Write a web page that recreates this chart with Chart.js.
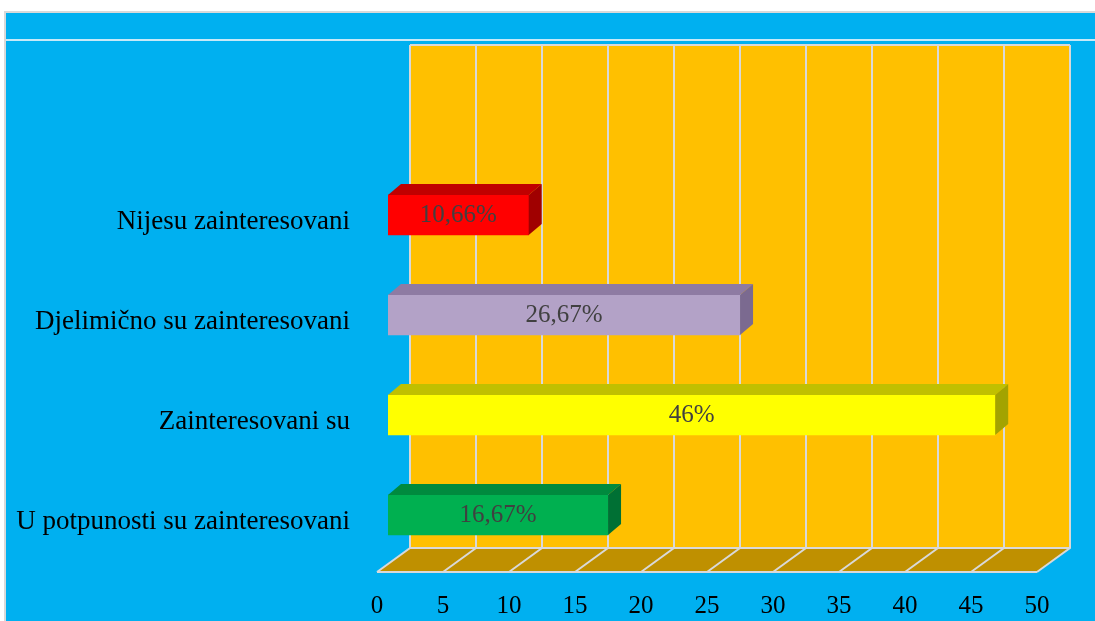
<!DOCTYPE html>
<html lang="en">
<head>
  <meta charset="UTF-8">
  <title>Zainteresovanost</title>
  <script src="https://cdn.jsdelivr.net/npm/chart.js"></script>
  <style>
    body {
      margin: 0;
      background: #ffffff;
    }
    .panel {
      position: absolute;
      left: 4px;
      top: 11px;
      width: 1091px;
      height: 610px;
      background: #00b0f0;
      border-left: 2px solid #d9d9d9;
      border-top: 2px solid #d9d9d9;
      box-sizing: border-box;
    }
    .panel .rule {
      position: absolute;
      left: 0;
      right: 0;
      top: 26px;
      height: 2px;
      background: #c6e9f8;
    }
    #chart {
      position: absolute;
      left: 0;
      top: 0;
    }
  </style>
</head>
<body>

  <div class="panel"><div class="rule"></div></div>
  <canvas id="chart" width="1095" height="621"></canvas>

  <script>
    const categories = [
      'Nijesu zainteresovani',
      'Djelimično su zainteresovani',
      'Zainteresovani su',
      'U potpunosti su zainteresovani'
    ];
    const values = [10.66, 26.67, 46, 16.67];
    const valueLabels = ['10,66%', '26,67%', '46%', '16,67%'];
    const axisMin = 0;
    const axisMax = 50;
    const axisStep = 5;

    const frontColors = ['#ff0000', '#b3a2c7', '#ffff00', '#00b050'];
    const topColors = ['#c00000', '#8e7ba3', '#c0c000', '#008a3e'];
    const sideColors = ['#a00000', '#7b6a90', '#a3a300', '#007034'];

    const serif = '"Liberation Serif", "Times New Roman", serif';

    // back wall + floor, drawn from the x scale
    const wallPlugin = {
      id: 'wall3d',
      beforeDatasetsDraw(chart) {
        const ctx = chart.ctx;
        const xs = chart.scales.x;
        const area = chart.chartArea;
        const back = 22, front = -11;
        const wallTop = area.top - 120;
        const wallBottom = area.bottom - 17;
        const floorFront = area.bottom + 7;
        const x0 = xs.getPixelForValue(xs.min);
        const x1 = xs.getPixelForValue(xs.max);

        ctx.save();
        ctx.fillStyle = '#ffc000';
        ctx.fillRect(x0 + back, wallTop, x1 - x0, wallBottom - wallTop);

        ctx.fillStyle = '#bf9000';
        ctx.beginPath();
        ctx.moveTo(x0 + back, wallBottom);
        ctx.lineTo(x1 + back, wallBottom);
        ctx.lineTo(x1 + front, floorFront);
        ctx.lineTo(x0 + front, floorFront);
        ctx.closePath();
        ctx.fill();

        ctx.strokeStyle = '#d9d9d9';
        ctx.lineWidth = 2;
        xs.ticks.forEach(t => {
          const px = xs.getPixelForValue(t.value);
          ctx.beginPath();
          ctx.moveTo(px + back, wallTop);
          ctx.lineTo(px + back, wallBottom);
          ctx.lineTo(px + front, floorFront);
          ctx.stroke();
        });
        ctx.beginPath();
        ctx.moveTo(x0 + back, wallTop);
        ctx.lineTo(x1 + back, wallTop);
        ctx.moveTo(x0 + back, wallBottom);
        ctx.lineTo(x1 + back, wallBottom);
        ctx.moveTo(x0 + front, floorFront);
        ctx.lineTo(x1 + front, floorFront);
        ctx.stroke();
        ctx.restore();
      }
    };

    // top and side faces of the bars + value labels
    const barFacesPlugin = {
      id: 'barFaces',
      afterDatasetsDraw(chart) {
        const ctx = chart.ctx;
        const meta = chart.getDatasetMeta(0);
        const dx = 13, dy = 11;
        ctx.save();
        meta.data.forEach((bar, i) => {
          const top = bar.y - bar.height / 2;
          const bottom = bar.y + bar.height / 2;
          const left = bar.base, right = bar.x;

          ctx.fillStyle = topColors[i];
          ctx.beginPath();
          ctx.moveTo(left, top);
          ctx.lineTo(left + dx, top - dy);
          ctx.lineTo(right + dx, top - dy);
          ctx.lineTo(right, top);
          ctx.closePath();
          ctx.fill();

          ctx.fillStyle = sideColors[i];
          ctx.beginPath();
          ctx.moveTo(right, top);
          ctx.lineTo(right + dx, top - dy);
          ctx.lineTo(right + dx, bottom - dy);
          ctx.lineTo(right, bottom);
          ctx.closePath();
          ctx.fill();

          ctx.fillStyle = '#404040';
          ctx.font = '25px ' + serif;
          ctx.textAlign = 'center';
          ctx.textBaseline = 'middle';
          ctx.fillText(valueLabels[i], (left + right) / 2, bar.y);
        });
        ctx.restore();
      }
    };

    const chart = new Chart(document.getElementById('chart'), {
      type: 'bar',
      data: {
        labels: categories,
        datasets: [{
          data: values,
          backgroundColor: frontColors,
          borderWidth: 0,
          barThickness: 40
        }]
      },
      options: {
        indexAxis: 'y',
        responsive: false,
        animation: false,
        layout: { padding: { top: 165, right: 47, left: 0, bottom: 0 } },
        plugins: {
          legend: { display: false },
          tooltip: { enabled: false }
        },
        scales: {
          x: {
            min: axisMin,
            max: axisMax,
            ticks: {
              stepSize: axisStep,
              labelOffset: -11,
              padding: 26,
              color: '#000000',
              font: { family: serif, size: 25 }
            },
            grid: { display: false, drawTicks: false },
            border: { display: false },
            afterFit(scale) { scale.height = 56; }
          },
          y: {
            ticks: {
              padding: 38,
              labelOffset: 7,
              color: '#000000',
              font: { family: serif, size: 27 }
            },
            grid: { display: false, drawTicks: false },
            border: { display: false },
            afterFit(scale) { scale.width = 388; }
          }
        }
      },
      plugins: [wallPlugin, barFacesPlugin]
    });
  </script>

</body>
</html>
